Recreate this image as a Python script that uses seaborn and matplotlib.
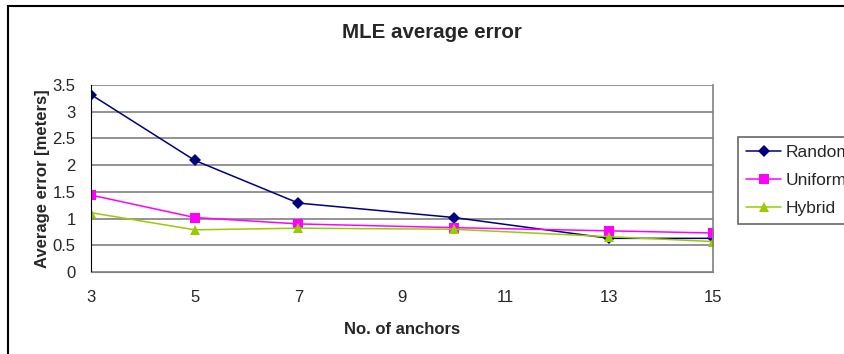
import numpy as np
import pandas as pd
import matplotlib
matplotlib.use("Agg")
import matplotlib.pyplot as plt
import seaborn as sns
from matplotlib.patches import Rectangle

anchors = [3, 5, 7, 10, 13, 15]
random_err = [3.32, 2.09, 1.29, 1.02, 0.63, 0.63]
uniform_err = [1.44, 1.02, 0.90, 0.83, 0.77, 0.73]
hybrid_err = [1.11, 0.79, 0.82, 0.80, 0.66, 0.57]
series_names = ["Random", "Uniform", "Hybrid"]
x_ticks = [3, 5, 7, 9, 11, 13, 15]
y_ticks = [0, 0.5, 1, 1.5, 2, 2.5, 3, 3.5]

df = pd.DataFrame({
    "anchors": anchors * 3,
    "error": random_err + uniform_err + hybrid_err,
    "series": [s for s in series_names for _ in anchors],
})

sns.set_style("white")
plt.rcParams["font.family"] = ["Liberation Sans", "DejaVu Sans"]

fig = plt.figure(figsize=(8.45, 3.54), dpi=100)
ax = fig.add_axes([91 / 845, 1 - 272 / 354, (713 - 91) / 845, (272 - 85) / 354])

palette = {"Random": "#000080", "Uniform": "#FF00FF", "Hybrid": "#99CC00"}
markers = {"Random": "D", "Uniform": "s", "Hybrid": "^"}
sns.lineplot(data=df, x="anchors", y="error", hue="series", style="series",
             palette=palette, markers=markers, dashes=False, markersize=6.5,
             markeredgewidth=0, linewidth=1.1, ax=ax, legend=True)

ax.set_xlim(3, 15)
ax.set_ylim(0, 3.5)
ax.set_xticks(x_ticks)
ax.set_yticks(y_ticks)
ax.set_yticklabels([f"{v:g}" for v in y_ticks])
ax.grid(axis="y", color="#808080", linewidth=1.2)
ax.set_axisbelow(True)
ax.spines["top"].set_visible(False)
ax.spines["right"].set_color("#808080")
ax.spines["right"].set_linewidth(1.2)
ax.spines["left"].set_color("black")
ax.spines["bottom"].set_color("#808080")
ax.tick_params(axis="y", direction="inout", length=6, width=1, color="black", labelsize=12, pad=8)
ax.tick_params(axis="x", direction="out", length=5, width=1, color="#808080", labelsize=12, pad=8)
ax.set_xlabel("No. of anchors", fontsize=12, fontweight="bold", labelpad=12)
ax.set_ylabel("Average error [meters]", fontsize=12, fontweight="bold", labelpad=2)

leg = ax.legend(loc="upper left", bbox_to_anchor=(738 / 845, 1 - 137 / 354),
                bbox_transform=fig.transFigure, frameon=True, fancybox=False,
                fontsize=12.5, handlelength=2.05, borderpad=0.45, labelspacing=0.75,
                handletextpad=0.22, borderaxespad=0)
leg.get_frame().set_edgecolor("#404040")
leg.get_frame().set_linewidth(1.2)

fig.text(432 / 845, 1 - 32 / 354, "MLE average error", ha="center", va="center",
         fontsize=14.8, fontweight="bold")

fig.patches.append(Rectangle((8 / 845, -0.1), 1.2, 1 - 6 / 354 + 0.1,
                             transform=fig.transFigure, fill=False,
                             edgecolor="black", linewidth=1.5))

fig.savefig("out.png", dpi=100)
